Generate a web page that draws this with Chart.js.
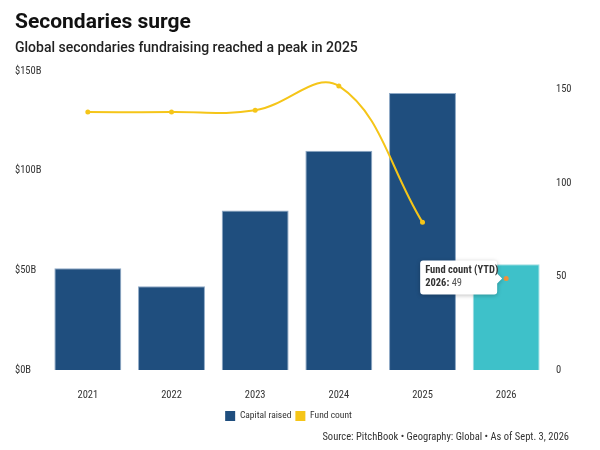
<!DOCTYPE html>
<html>
<head>
<meta charset="utf-8">
<script src="https://cdn.jsdelivr.net/npm/chart.js@4"></script>
<style>
  html, body { margin: 0; padding: 0; background: #fff; }
  #wrap { width: 600px; height: 450px; position: relative; }
</style>
</head>
<body>
<div id="wrap"><canvas id="c"></canvas></div>
<script>
const years = ['2021', '2022', '2023', '2024', '2025', '2026'];
const capitalRaised = [51, 42, 80, 110, 139, 53];
const fundCount = [138, 138, 139, 152, 79, null];
const fundCountYTD = [null, null, null, null, null, 49];
const leftTicks = [0, 50, 100, 150];
const rightTicks = [0, 50, 100, 150];

const NARROW = "'Roboto Condensed', 'Liberation Sans Narrow', 'Arial Narrow', Roboto, sans-serif";
const BLUE = '#1F4E7E';
const TEAL = '#3EC1C9';
const YELLOW = '#F5C518';
const ORANGE = '#F0913A';

const extrasPlugin = {
  id: 'extras',
  afterLayout(chart) {
    if (chart.legend) {
      chart.legend.left -= 19;
      chart.legend.right -= 19;
    }
  },
  afterDraw(chart) {
    const ctx = chart.ctx;
    ctx.save();
    ctx.font = '10.5px ' + NARROW;
    ctx.fillStyle = '#333';
    ctx.textAlign = 'right';
    ctx.textBaseline = 'middle';
    ctx.fillText('Source: PitchBook \u2022 Geography: Global \u2022 As of Sept. 3, 2026', 569, 437);
    ctx.restore();

    const meta = chart.getDatasetMeta(2);
    const pt = meta.data[5];
    if (!pt) return;
    const px = pt.x, py = pt.y;
    const w = 77, h = 34;
    const right = px - 9;
    const left = right - w;
    const top = py - 18;
    ctx.save();
    ctx.shadowColor = 'rgba(0,0,0,0.25)';
    ctx.shadowBlur = 4;
    ctx.shadowOffsetY = 1;
    ctx.fillStyle = '#fff';
    ctx.beginPath();
    const r = 3;
    ctx.moveTo(left + r, top);
    ctx.lineTo(right - r, top);
    ctx.quadraticCurveTo(right, top, right, top + r);
    ctx.lineTo(right, py - 5);
    ctx.lineTo(right + 5, py);
    ctx.lineTo(right, py + 5);
    ctx.lineTo(right, top + h - r);
    ctx.quadraticCurveTo(right, top + h, right - r, top + h);
    ctx.lineTo(left + r, top + h);
    ctx.quadraticCurveTo(left, top + h, left, top + h - r);
    ctx.lineTo(left, top + r);
    ctx.quadraticCurveTo(left, top, left + r, top);
    ctx.closePath();
    ctx.fill();
    ctx.restore();

    ctx.save();
    ctx.textBaseline = 'middle';
    ctx.textAlign = 'left';
    ctx.fillStyle = '#333';
    ctx.font = 'bold 10.5px ' + NARROW;
    ctx.fillText('Fund count (YTD)', left + 5, top + 10);
    const lbl = years[5] + ': ';
    ctx.fillText(lbl, left + 5, top + 23);
    const lw = ctx.measureText(lbl).width;
    ctx.font = '10.5px ' + NARROW;
    ctx.fillStyle = '#555';
    ctx.fillText(String(fundCountYTD[5]), left + 5 + lw, top + 23);
    ctx.restore();
  }
};

new Chart(document.getElementById('c'), {
  data: {
    labels: years,
    datasets: [
      {
        type: 'bar',
        label: 'Capital raised',
        data: capitalRaised,
        yAxisID: 'y',
        order: 2,
        backgroundColor: (c) => (c.dataIndex === 5 ? TEAL : BLUE),
        borderColor: (c) => (c.dataIndex === 5 ? '#9fdde1' : '#8ea9c6'),
        borderWidth: 1,
        categoryPercentage: 1,
        barPercentage: 0.8
      },
      {
        type: 'line',
        label: 'Fund count',
        data: fundCount,
        yAxisID: 'y1',
        order: 1,
        borderColor: YELLOW,
        backgroundColor: YELLOW,
        borderWidth: 2,
        tension: 0.4,
        pointRadius: 2.5,
        pointBackgroundColor: YELLOW,
        pointBorderWidth: 0
      },
      {
        type: 'line',
        label: 'Fund count (YTD)',
        data: fundCountYTD,
        yAxisID: 'y1',
        order: 0,
        showLine: false,
        borderColor: ORANGE,
        backgroundColor: ORANGE,
        pointRadius: 2.5,
        pointBorderWidth: 0
      }
    ]
  },
  options: {
    responsive: true,
    maintainAspectRatio: false,
    animation: false,
    events: [],
    layout: { padding: { left: 15, right: 0, top: 10, bottom: 19 } },
    plugins: {
      title: {
        display: true,
        text: 'Secondaries surge',
        align: 'start',
        color: '#111',
        font: { family: 'Roboto', size: 21, weight: 'bold' },
        padding: { top: 0, bottom: 4 }
      },
      subtitle: {
        display: true,
        text: 'Global secondaries fundraising reached a peak in 2025',
        align: 'start',
        color: '#222',
        font: { family: 'Roboto', size: 14, weight: '500' },
        padding: { top: 1, bottom: 14 }
      },
      legend: {
        position: 'bottom',
        labels: {
          boxWidth: 10,
          boxHeight: 10,
          padding: 4,
          color: '#333',
          font: { family: NARROW, size: 9.5 },
          generateLabels: (chart) => [
            { text: 'Capital raised', fillStyle: BLUE, strokeStyle: BLUE, lineWidth: 0, datasetIndex: 0, fontColor: '#333' },
            { text: 'Fund count', fillStyle: YELLOW, strokeStyle: YELLOW, lineWidth: 0, datasetIndex: 1, fontColor: '#333' }
          ]
        }
      },
      tooltip: { enabled: false }
    },
    scales: {
      x: {
        grid: { display: false, drawTicks: false },
        border: { display: false },
        afterFit: (s) => { s.height = 37; },
        ticks: { color: '#333', font: { family: NARROW, size: 10.5 }, padding: 19 }
      },
      y: {
        position: 'left',
        min: 0,
        max: 150,
        grid: { display: false, drawTicks: false },
        border: { display: false },
        afterBuildTicks: (s) => { s.ticks = leftTicks.map(v => ({ value: v })); },
        afterFit: (s) => { s.width = 31; },
        ticks: {
          crossAlign: 'far',
          color: '#333',
          font: { family: NARROW, size: 10.5 },
          callback: (v) => '$' + v + 'B'
        }
      },
      y1: {
        position: 'right',
        min: 0,
        max: 160,
        grid: { display: false, drawTicks: false },
        border: { display: false },
        afterBuildTicks: (s) => { s.ticks = rightTicks.map(v => ({ value: v })); },
        afterFit: (s) => { s.width = 52; },
        ticks: {
          padding: 8,
          color: '#333',
          font: { family: NARROW, size: 10.5 }
        }
      }
    }
  },
  plugins: [extrasPlugin]
});
</script>
</body>
</html>
